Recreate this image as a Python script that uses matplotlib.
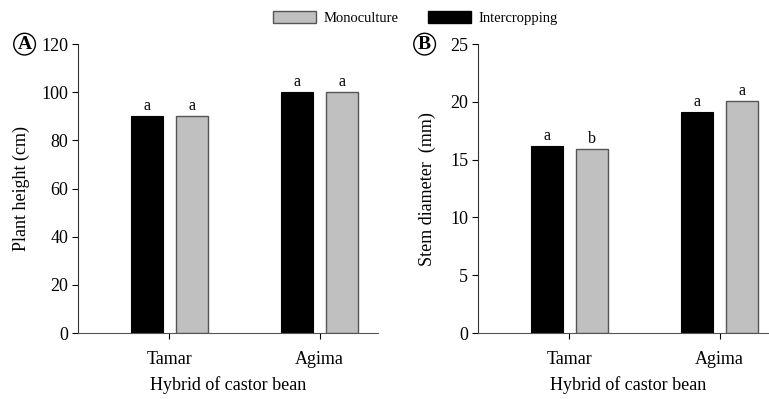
import matplotlib

matplotlib.use("Agg")
import matplotlib.pyplot as plt
import numpy as np
from matplotlib.patches import Patch

plt.rcParams["font.family"] = ["Liberation Serif", "DejaVu Serif"]

hybrids = ["Tamar", "Agima"]
height_inter = [90, 100]
height_mono = [90, 100]
height_inter_letters = ["a", "a"]
height_mono_letters = ["a", "a"]
stem_inter = [16.2, 19.1]
stem_mono = [15.9, 20.1]
stem_inter_letters = ["a", "a"]
stem_mono_letters = ["b", "a"]

BLACK = "#000000"
GREY = "#c0c0c0"
GREY_EDGE = "#555555"
FS = 13

fig = plt.figure(figsize=(7.69, 3.99), dpi=100)
ax_a = fig.add_axes([0.1014, 0.1654, 0.390, 0.724])
ax_b = fig.add_axes([0.6216, 0.1654, 0.390, 0.724])

x = np.arange(len(hybrids))
w = 0.213
off = 0.15


def draw(ax, inter, mono, li, lm, ymax, step, ylabel, letter, pad):
    b1 = ax.bar(x - off, inter, w, color=BLACK, edgecolor=BLACK, linewidth=0.8)
    b2 = ax.bar(x + off, mono, w, color=GREY, edgecolor=GREY_EDGE, linewidth=1.0)
    for bars, labels in ((b1, li), (b2, lm)):
        for bar, lab in zip(bars, labels):
            ax.annotate(lab, (bar.get_x() + bar.get_width() / 2, bar.get_height()),
                        xytext=(0, 1.5), textcoords="offset points",
                        ha="center", va="bottom", fontsize=11.5)
    ax.set_xlim(-0.607, 1.387)
    ax.set_ylim(0, ymax)
    ax.set_yticks(np.arange(0, ymax + step / 2, step))
    ax.set_xticks(x)
    ax.set_xticklabels(hybrids, fontsize=FS)
    ax.tick_params(axis="both", direction="out", length=4, width=0.8, labelsize=FS)
    ax.tick_params(axis="x", pad=9)
    ax.tick_params(axis="y", pad=3)
    for s in ("top", "right"):
        ax.spines[s].set_visible(False)
    ax.spines["left"].set_color("#333333")
    ax.spines["bottom"].set_color("#555555")
    ax.set_xlabel("Hybrid of castor bean", fontsize=FS, labelpad=6)
    ax.set_ylabel(ylabel, fontsize=FS, labelpad=pad)
    ax.text(-0.178, 1.0, letter, transform=ax.transAxes, ha="center", va="center",
            fontsize=14, fontweight="bold",
            bbox=dict(boxstyle="circle,pad=0.12", fc="white", ec="black", lw=1.0))


draw(ax_a, height_inter, height_mono, height_inter_letters, height_mono_letters,
     120, 20, "Plant height (cm)", "A", 8)
draw(ax_b, stem_inter, stem_mono, stem_inter_letters, stem_mono_letters,
     25, 5, "Stem diameter  (mm)", "B", 10)

handles = [Patch(facecolor=GREY, edgecolor=GREY_EDGE, label="Monoculture"),
           Patch(facecolor=BLACK, edgecolor=BLACK, label="Intercropping")]
fig.legend(handles=handles, loc="center", bbox_to_anchor=(0.54, 0.955), ncol=2,
           frameon=False, fontsize=10.5, handlelength=3.0, handleheight=0.9,
           columnspacing=2.0, handletextpad=0.5)

fig.savefig("out.png", dpi=100)
